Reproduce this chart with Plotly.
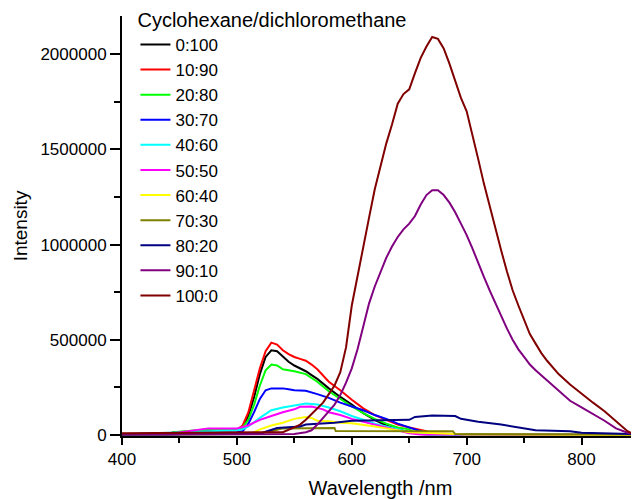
import plotly.graph_objects as go

labels = ["0:100", "10:90", "20:80", "30:70", "40:60", "50:50",
          "60:40", "70:30", "80:20", "90:10", "100:0"]
colors = ["#000000", "#FF0000", "#00FF00", "#0000FF", "#00FFFF", "#FF00FF",
          "#FFFF00", "#808000", "#000080", "#800080", "#800000"]

wl_0_100 = [400, 440, 445, 460, 480, 500, 505, 510, 515, 520, 525, 530, 535, 540, 545, 550, 555,
            560, 565, 570, 580, 590, 600, 610, 620, 630, 640, 650, 660, 670, 850]
int_0_100 = [5000, 5000, 15000, 18000, 25000, 28000, 40000, 100000, 200000, 320000, 410000, 445000,
             440000, 410000, 385000, 365000, 350000, 335000, 315000, 295000, 245000, 200000, 160000,
             115000, 80000, 50000, 30000, 15000, 5000, 2000, 0]

wl_10_90 = [400, 440, 445, 480, 500, 505, 510, 515, 520, 525, 530, 535, 540, 545, 550, 555, 560,
            565, 570, 580, 590, 600, 610, 620, 630, 640, 650, 660, 665, 670, 700, 850]
int_10_90 = [5000, 5000, 15000, 20000, 28000, 50000, 120000, 230000, 350000, 440000, 485000, 475000,
             445000, 425000, 410000, 400000, 390000, 370000, 345000, 280000, 235000, 185000, 140000,
             105000, 80000, 55000, 40000, 28000, 20000, 8000, 4000, 0]

wl_20_80 = [400, 440, 445, 475, 500, 505, 510, 515, 520, 525, 530, 535, 540, 550, 560, 570, 580,
            590, 600, 610, 620, 630, 640, 650, 655, 670, 850]
int_20_80 = [5000, 5000, 15000, 30000, 30000, 40000, 80000, 160000, 260000, 340000, 370000, 365000,
             345000, 335000, 320000, 280000, 230000, 190000, 150000, 115000, 85000, 60000, 40000,
             30000, 10000, 3000, 0]

wl_30_70 = [400, 440, 500, 505, 510, 515, 520, 525, 530, 540, 545, 550, 560, 565, 570, 580, 590,
            600, 610, 620, 630, 640, 650, 660, 670, 850]
int_30_70 = [3000, 3000, 15000, 20000, 60000, 120000, 190000, 235000, 245000, 245000, 240000,
             235000, 232000, 225000, 215000, 195000, 170000, 150000, 130000, 105000, 85000, 60000,
             40000, 20000, 5000, 0]

wl_40_60 = [400, 480, 500, 505, 510, 520, 530, 540, 550, 560, 570, 580, 590, 600, 610, 620, 630,
            640, 650, 660, 670, 850]
int_40_60 = [3000, 20000, 25000, 30000, 45000, 90000, 130000, 145000, 155000, 165000, 160000,
             145000, 125000, 100000, 80000, 60000, 45000, 30000, 15000, 5000, 2000, 0]

wl_50_50 = [400, 440, 475, 500, 510, 520, 530, 540, 550, 555, 565, 575, 580, 590, 600, 610, 620,
            630, 640, 650, 660, 850]
int_50_50 = [5000, 5000, 35000, 35000, 50000, 80000, 100000, 120000, 135000, 148000, 150000,
             135000, 120000, 105000, 85000, 70000, 55000, 40000, 25000, 10000, 3000, 0]

wl_60_40 = [400, 510, 515, 520, 530, 540, 550, 560, 565, 570, 580, 590, 600, 610, 620, 630, 640,
            650, 680, 700, 850]
int_60_40 = [3000, 5000, 15000, 30000, 50000, 65000, 85000, 95000, 90000, 75000, 72000, 65000,
             62000, 55000, 45000, 35000, 25000, 15000, 8000, 3000, 0]

wl_70_30 = [400, 510, 520, 530, 540, 585, 586, 688, 690, 850]
int_70_30 = [3000, 5000, 10000, 20000, 35000, 37000, 21000, 20000, 5000, 3000]

wl_80_20 = [400, 520, 525, 535, 555, 560, 585, 600, 650, 655, 670, 690, 695, 710, 730, 745, 760,
            790, 800, 850]
int_80_20 = [3000, 5000, 17000, 37000, 45000, 55000, 65000, 75000, 80000, 95000, 103000, 100000,
             85000, 70000, 55000, 40000, 25000, 20000, 12000, 5000]

wl_90_10 = [400, 550, 560, 565, 570, 575, 580, 585, 590, 595, 600, 605, 610, 615, 620, 625, 630,
            635, 640, 645, 650, 655, 660, 665, 670, 675, 680, 685, 690, 695, 700, 705, 710, 715,
            720, 725, 730, 735, 740, 745, 750, 755, 760, 770, 780, 790, 800, 810, 820, 830, 840, 850]
int_90_10 = [3000, 5000, 15000, 25000, 55000, 90000, 120000, 160000, 210000, 275000, 350000, 450000,
             570000, 690000, 780000, 860000, 930000, 990000, 1040000, 1080000, 1110000, 1150000,
             1210000, 1260000, 1285000, 1285000, 1260000, 1220000, 1170000, 1110000, 1050000,
             980000, 900000, 830000, 760000, 690000, 630000, 560000, 500000, 450000, 410000,
             370000, 340000, 285000, 230000, 180000, 145000, 110000, 75000, 35000, 12000, 3000]

wl_100_0 = [400, 540, 550, 555, 560, 565, 570, 575, 580, 585, 590, 595, 600, 605, 610, 615, 620,
            625, 630, 635, 640, 645, 650, 655, 660, 665, 670, 675, 680, 685, 690, 695, 700, 705,
            710, 715, 720, 725, 730, 735, 740, 745, 750, 755, 760, 765, 770, 775, 780, 790, 800,
            810, 820, 830, 840, 845, 850]
int_100_0 = [10000, 15000, 40000, 55000, 80000, 110000, 135000, 170000, 215000, 260000, 330000,
             460000, 680000, 840000, 980000, 1140000, 1290000, 1410000, 1530000, 1630000, 1740000,
             1790000, 1815000, 1900000, 1980000, 2040000, 2090000, 2080000, 2030000, 1950000,
             1860000, 1770000, 1700000, 1580000, 1450000, 1320000, 1200000, 1090000, 970000,
             860000, 760000, 680000, 610000, 530000, 480000, 430000, 390000, 355000, 320000,
             265000, 215000, 170000, 125000, 75000, 20000, 5000, 3000]

series_wl = [wl_0_100, wl_10_90, wl_20_80, wl_30_70, wl_40_60, wl_50_50,
             wl_60_40, wl_70_30, wl_80_20, wl_90_10, wl_100_0]
series_int = [int_0_100, int_10_90, int_20_80, int_30_70, int_40_60, int_50_50,
              int_60_40, int_70_30, int_80_20, int_90_10, int_100_0]

x_ticks = [400, 500, 600, 700, 800]
y_ticks = [0, 500000, 1000000, 1500000, 2000000]

FONT = "Liberation Sans, Arial, sans-serif"

fig = go.Figure()
for lab, col, xs, ys in zip(labels, colors, series_wl, series_int):
    fig.add_trace(go.Scatter(x=xs, y=ys, mode="lines", name=lab,
                             line=dict(color=col, width=2)))

# page body has an 8px margin, so the figure is sized/offset to compensate
fig.update_layout(
    width=631, height=491,
    margin=dict(l=114, r=0, t=8, b=63, autoexpand=False),
    paper_bgcolor="white", plot_bgcolor="white",
    font=dict(family=FONT, size=17, color="black"),
    showlegend=True,
    legend=dict(
        title=dict(text="Cyclohexane/dichloromethane", font=dict(size=20)),
        font=dict(size=17),
        x=0.026, y=1.036, xanchor="left", yanchor="top",
        bgcolor="rgba(0,0,0,0)", tracegroupgap=0, maxheight=1000,
    ),
)
fig.update_xaxes(
    range=[400, 850], tickvals=x_ticks, ticktext=[str(v) for v in x_ticks],
    showline=True, linecolor="black", linewidth=2, showgrid=False, zeroline=False,
    ticks="outside", ticklen=7, tickwidth=2, tickcolor="black",
    minor=dict(dtick=50, tick0=400, ticks="outside", ticklen=5, tickwidth=2, tickcolor="black"),
    title=dict(text="Wavelength /nm", font=dict(size=20), standoff=14),
    tickfont=dict(size=17),
)
fig.update_yaxes(
    range=[-5000, 2200000], tickvals=y_ticks, ticktext=[str(v) for v in y_ticks],
    showline=True, linecolor="black", linewidth=2, showgrid=False, zeroline=False,
    ticks="outside", ticklen=10, tickwidth=2, tickcolor="black",
    minor=dict(dtick=250000, tick0=0, ticks="outside", ticklen=6, tickwidth=2, tickcolor="black"),
    title=dict(text="Intensity", font=dict(size=19), standoff=8),
    tickfont=dict(size=17),
)

fig.write_html("out.html")
